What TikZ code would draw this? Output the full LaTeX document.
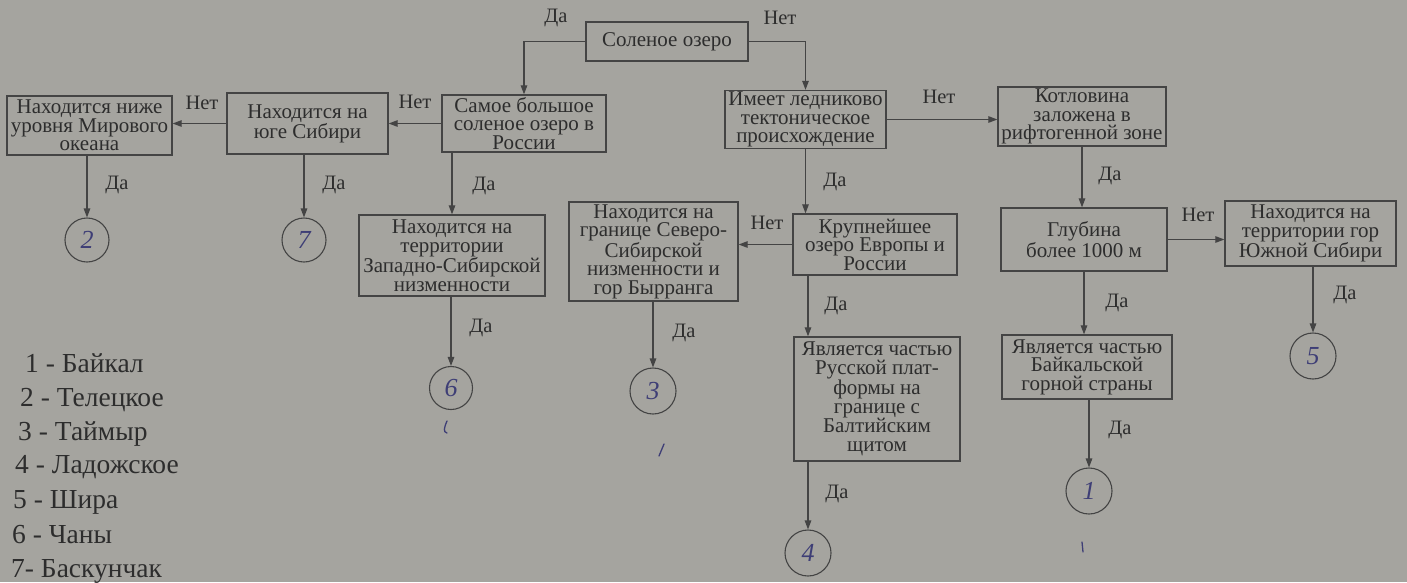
\documentclass[tikz,border=0pt]{standalone}
\usepackage{fontspec}
\setmainfont{Liberation Serif}
\usetikzlibrary{arrows.meta}
\definecolor{bg}{RGB}{165,164,159}
\definecolor{ink}{RGB}{45,45,45}
\definecolor{line}{RGB}{68,68,68}
\definecolor{pen}{RGB}{62,62,118}
\begin{document}
\begin{tikzpicture}[x=1pt,y=-1pt,
  box/.style={draw=line, line width=1.3pt, inner sep=1pt, align=center, text=ink,
    font=\fontsize{21}{18.5}\selectfont},
  lab/.style={text=ink, inner sep=0pt, font=\fontsize{20.5}{20.5}\selectfont},
  num/.style={circle, draw=line, line width=1.1pt, inner sep=0pt, text=pen,
    font=\fontsize{26}{26}\selectfont\itshape},
  arr/.style={draw=line, line width=1.2pt, -{Triangle[length=9pt,width=6.5pt]}},
  leg/.style={anchor=base west, text=ink, inner sep=0pt, font=\fontsize{27.5}{27.5}\selectfont},
  inkmark/.style={draw=pen, line width=1.3pt, line cap=round}]
\useasboundingbox (0,0) rectangle (1407,582);
\fill[bg] (0,0) rectangle (1407,582);

% boxes
\node[box, minimum width=162pt, minimum height=39pt] (sol) at (667,41.5) {Соленое озеро};
\node[box, minimum width=164pt, minimum height=57pt] (big) at (524,123.5) {Самое большое\\соленое озеро в\\России};
\node[box, minimum width=161pt, minimum height=61pt] (south) at (307.5,123.5) {Находится на\\юге Сибири};
\node[box, minimum width=165pt, minimum height=59pt] (low) at (89.5,125.5) {Находится ниже\\уровня Мирового\\океана};
\node[box, minimum width=186pt, minimum height=81pt] (wsib) at (452,255.5) {Находится на\\территории\\Западно-Сибирской\\низменности};
\node[box, minimum width=169pt, minimum height=99pt] (sev) at (653.5,251.5) {Находится на\\границе Северо-\\Сибирской\\низменности и\\гор Бырранга};
\node[box, minimum width=161pt, minimum height=58pt] (led) at (805.5,119.5) {Имеет ледниково\\тектоническое\\происхождение};
\node[box, minimum width=168pt, minimum height=59pt] (kot) at (1082,116.5) {Котловина\\заложена в\\рифтогенной зоне};
\node[box, minimum width=164pt, minimum height=61pt] (krup) at (875,244.5) {Крупнейшее\\озеро Европы и\\России};
\node[box, minimum width=166pt, minimum height=124pt] (rus) at (877,399) {Является частью\\Русской плат-\\формы на\\границе с\\Балтийским\\щитом};
\node[box, minimum width=166pt, minimum height=63pt] (glub) at (1084,239.5) {Глубина\\более 1000 м};
\node[box, minimum width=171pt, minimum height=65pt] (gor) at (1310.5,233.5) {Находится на\\территории гор\\Южной Сибири};
\node[box, minimum width=170pt, minimum height=64pt] (baik) at (1087,367) {Является частью\\Байкальской\\горной страны};

% answer circles
\node[num, minimum size=44pt] (c2) at (87,240) {2};
\node[num, minimum size=44pt] (c7) at (304,240) {7};
\node[num, minimum size=43pt] (c6) at (451,388) {6};
\node[num, minimum size=46pt] (c3) at (653,391) {3};
\node[num, minimum size=46pt] (c4) at (808,553) {4};
\node[num, minimum size=46pt] (c5) at (1313,356) {5};
\node[num, minimum size=46pt] (c1) at (1089,491) {1};

% connectors
\draw[arr] (sol.west) -| (big.north);
\draw[arr] (sol.east) -| (led.north);
\draw[arr] (big.west) -- (south.east);
\draw[arr] (south.west) -- (south.west -| low.east);
\draw[arr] (c2.north |- low.south) -- (c2.north);
\draw[arr] (c7.north |- south.south) -- (c7.north);
\draw[arr] (wsib.north |- big.south) -- (wsib.north);
\draw[arr] (c6.north |- wsib.south) -- (c6.north);
\draw[arr] (led.east) -- (led.east -| kot.west);
\draw[arr] (led.south) -- (led.south |- krup.north);
\draw[arr] (krup.west) -- (krup.west -| sev.east);
\draw[arr] (c3.north |- sev.south) -- (c3.north);
\draw[arr] (c4.north |- krup.south) -- (c4.north |- rus.north);
\draw[arr] (c4.north |- rus.south) -- (c4.north);
\draw[arr] (kot.south) -- (kot.south |- glub.north);
\draw[arr] (glub.east) -- (glub.east -| gor.west);
\draw[arr] (c5.north |- gor.south) -- (c5.north);
\draw[arr] (glub.south) -- (glub.south |- baik.north);
\draw[arr] (c1.north |- baik.south) -- (c1.north);

% labels
\node[lab] (y0) at (556,18) {Да};
\node[lab] (n0) at (780,18) {Нет};
\node[lab] (n1) at (415,102) {Нет};
\node[lab] (n2) at (202,103) {Нет};
\node[lab] (y1) at (117,185) {Да};
\node[lab] (y2) at (334,185) {Да};
\node[lab] (y3) at (484,186) {Да};
\node[lab] (y4) at (481,328) {Да};
\node[lab] (n3) at (767,223) {Нет};
\node[lab] (y5) at (684,333) {Да};
\node[lab] (n4) at (939,97) {Нет};
\node[lab] (y6) at (835,182) {Да};
\node[lab] (y7) at (836,306) {Да};
\node[lab] (y8) at (837,494) {Да};
\node[lab] (y9) at (1110,176) {Да};
\node[lab] (n5) at (1198,215) {Нет};
\node[lab] (y10) at (1345,295) {Да};
\node[lab] (y11) at (1117,303) {Да};
\node[lab] (y12) at (1120,430) {Да};

% legend
\node[leg] (g1) at (25,372) {1 - Байкал};
\node[leg] (g2) at (20,406) {2 - Телецкое};
\node[leg] (g3) at (18,440) {3 - Таймыр};
\node[leg] (g4) at (15,473) {4 - Ладожское};
\node[leg] (g5) at (13,508) {5 - Шира};
\node[leg] (g6) at (12,543) {6 - Чаны};
\node[leg] (g7) at (11,577) {7- Баскунчак};

% handwritten marks
\draw[inkmark] (447,421) .. controls (444,428) and (443,432) .. (447,433);
\draw[inkmark] (664,444) -- (659,456);
\draw[inkmark] (1082,542) -- (1083,552);
\end{tikzpicture}
\end{document}
